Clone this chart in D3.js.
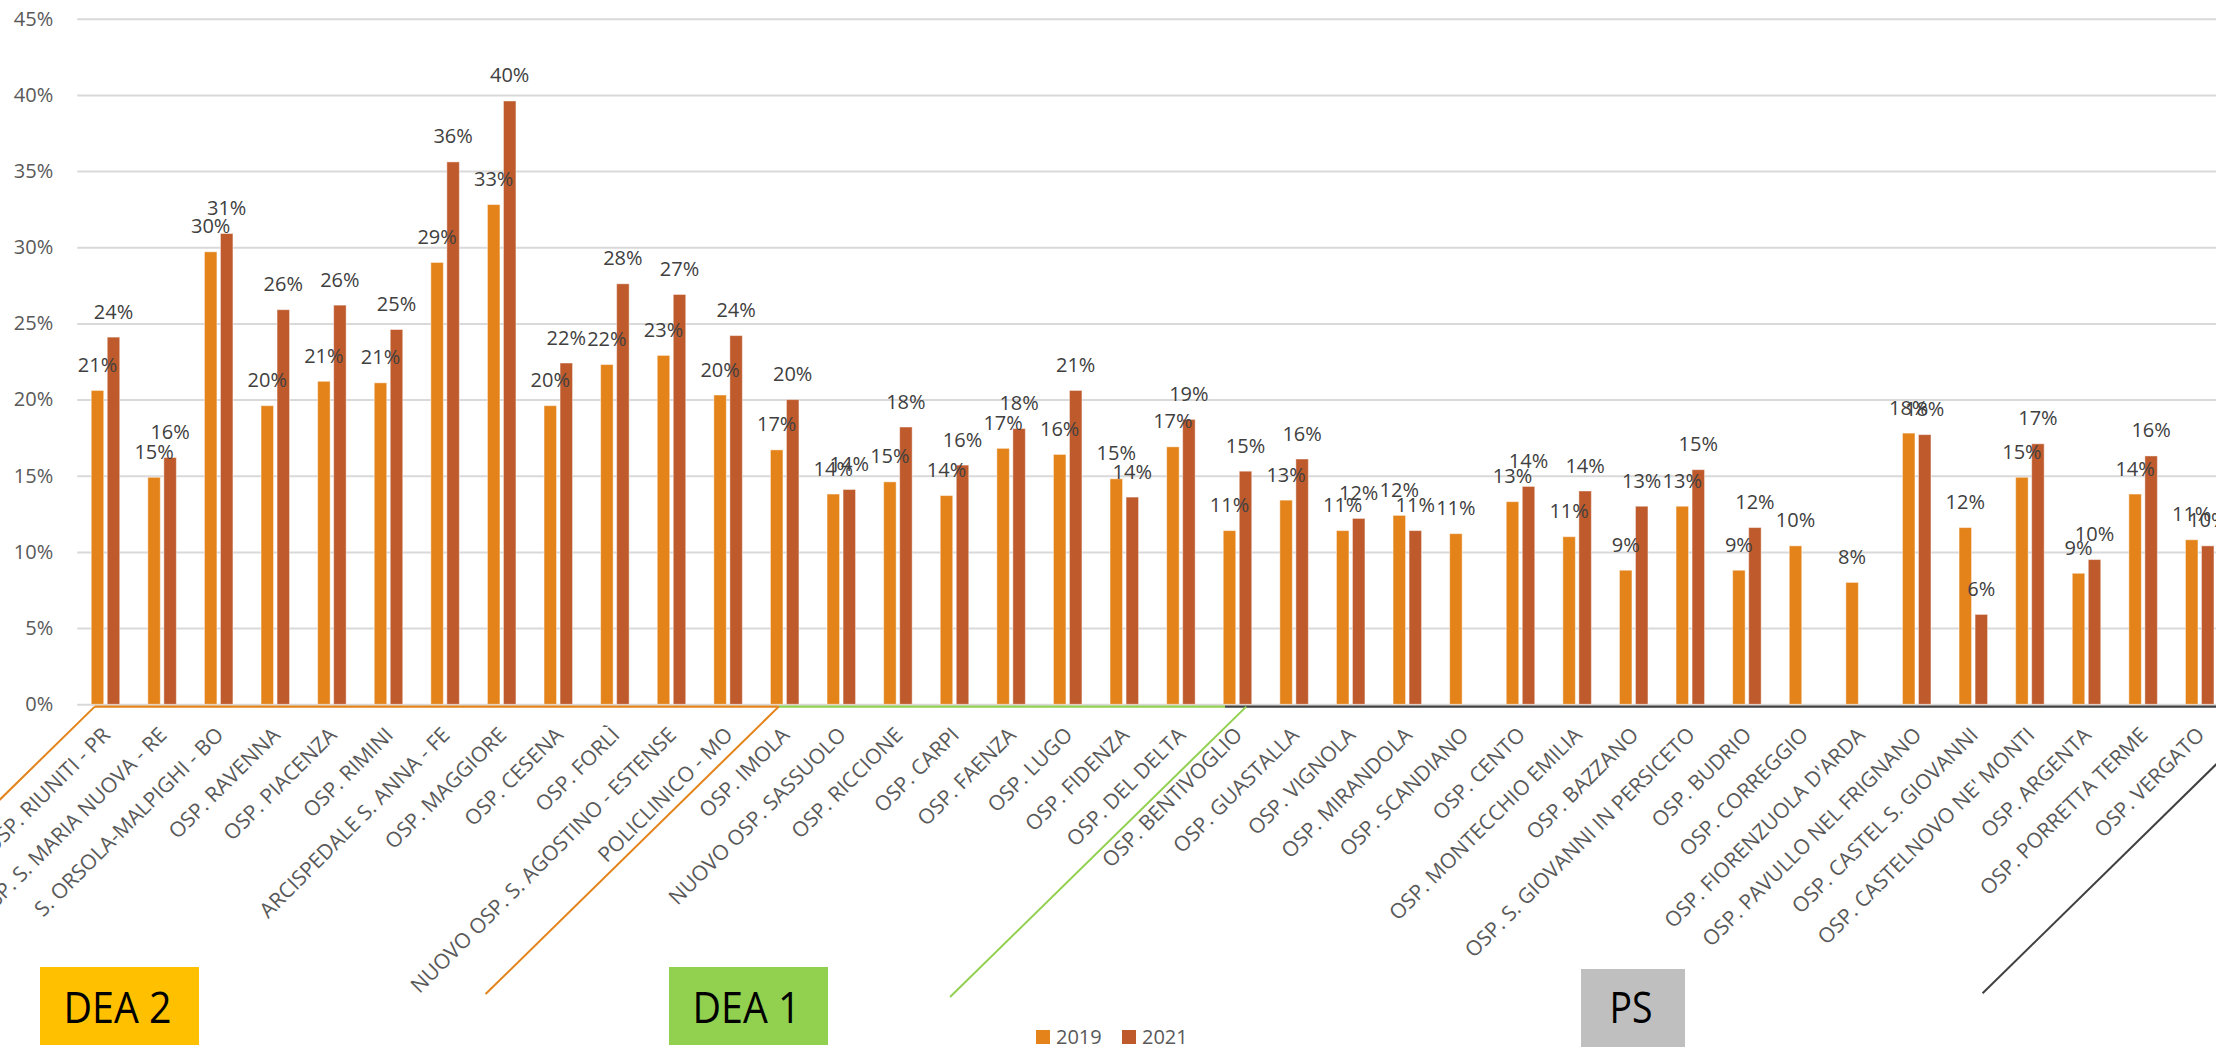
<!DOCTYPE html>
<html><head><meta charset="utf-8">
<script src="https://cdn.jsdelivr.net/npm/d3@7"></script>
<style>
html,body{margin:0;padding:0;background:#fff;overflow:hidden}
svg{display:block}
text{font-family:"Open Sans","Noto Sans",sans-serif}
</style></head><body>
<script>
// ---------- DATA ----------
const categories = [
  "OSP. RIUNITI - PR","OSP. S. MARIA NUOVA - RE","S. ORSOLA-MALPIGHI - BO","OSP. RAVENNA","OSP. PIACENZA",
  "OSP. RIMINI","ARCISPEDALE S. ANNA - FE","OSP. MAGGIORE","OSP. CESENA","OSP. FORLÌ",
  "NUOVO OSP. S. AGOSTINO - ESTENSE","POLICLINICO - MO","OSP. IMOLA","NUOVO OSP. SASSUOLO","OSP. RICCIONE",
  "OSP. CARPI","OSP. FAENZA","OSP. LUGO","OSP. FIDENZA","OSP. DEL DELTA",
  "OSP. BENTIVOGLIO","OSP. GUASTALLA","OSP. VIGNOLA","OSP. MIRANDOLA","OSP. SCANDIANO",
  "OSP. CENTO","OSP. MONTECCHIO EMILIA","OSP. BAZZANO","OSP. S. GIOVANNI IN PERSICETO","OSP. BUDRIO",
  "OSP. CORREGGIO","OSP. FIORENZUOLA D'ARDA","OSP. PAVULLO NEL FRIGNANO","OSP. CASTEL S. GIOVANNI","OSP. CASTELNOVO NE' MONTI",
  "OSP. ARGENTA","OSP. PORRETTA TERME","OSP. VERGATO"
];
const values2019 = [
  20.6, 14.9, 29.7, 19.6, 21.2, 21.1, 29.0, 32.8, 19.6, 22.3,
  22.9, 20.3, 16.7, 13.8, 14.6, 13.7, 16.8, 16.4, 14.8, 16.9,
  11.4, 13.4, 11.4, 12.4, 11.2, 13.3, 11.0, 8.8, 13.0, 8.8,
  10.4, 8.0, 17.8, 11.6, 14.9, 8.6, 13.8, 10.8
];
const values2021 = [
  24.1, 16.2, 30.9, 25.9, 26.2, 24.6, 35.6, 39.6, 22.4, 27.6,
  26.9, 24.2, 20.0, 14.1, 18.2, 15.7, 18.1, 20.6, 13.6, 18.7,
  15.3, 16.1, 12.2, 11.4, null, 14.3, 14.0, 13.0, 15.4, 11.6,
  null, null, 17.7, 5.9, 17.1, 9.5, 16.3, 10.4
];
const seriesNames = ["2019", "2021"];
const yTicks = [0, 5, 10, 15, 20, 25, 30, 35, 40, 45];
const groupNames = ["DEA 2", "DEA 1", "PS"];
const groupFirstCategory = ["OSP. RIUNITI - PR", "OSP. IMOLA", "OSP. BENTIVOGLIO"];

// ---------- STYLE / LAYOUT ----------
const W = 2216, H = 1047;
const seriesColors = ["#E3831A", "#BE5A2C"];
const groupFill = ["#FFC000", "#92D050", "#BFBFBF"];
const groupLine = ["#E3831A", "#92D050", "#404040"];
const plotLeft = 77.2, plotTop = 18.7, plotBottom = 704.3, step = 56.6;

const svg = d3.select("body").append("svg").attr("width", W).attr("height", H);

const x = d3.scaleBand().domain(categories)
  .range([plotLeft, plotLeft + step * categories.length])
  .paddingInner(0.4965).paddingOuter(0.248);
const xs = d3.scaleBand().domain(seriesNames).range([0, x.bandwidth()]).paddingInner(0.22);
const y = d3.scaleLinear().domain([0, 45]).range([plotBottom, plotTop]);

// gridlines + y axis labels
const yAxis = d3.axisLeft(y).tickValues(yTicks).tickFormat(d => d + "%").tickSize(-(W - plotLeft)).tickPadding(24);
const gy = svg.append("g").attr("transform", `translate(${plotLeft},0)`).call(yAxis);
gy.select(".domain").remove();
gy.selectAll(".tick line").attr("stroke", "#D9D9D9").attr("stroke-width", 2);
gy.selectAll(".tick text").attr("fill", "#595959").attr("font-size", 20)
  .attr("font-family", '"Open Sans","Noto Sans",sans-serif');

// bars
const seriesVals = [values2019, values2021];
const rows = [];
categories.forEach((c, i) => seriesNames.forEach((s, j) => {
  const v = seriesVals[j][i];
  if (v !== null && v !== undefined) rows.push({ c, s, j, v });
}));
svg.append("g").selectAll("rect").data(rows).join("rect")
  .attr("x", d => x(d.c) + xs(d.s))
  .attr("y", d => y(d.v))
  .attr("width", xs.bandwidth())
  .attr("height", d => y(0) - y(d.v))
  .attr("fill", d => seriesColors[d.j])
  .attr("stroke", "rgba(255,255,255,0.45)").attr("stroke-width", 1);

// value labels
svg.append("g").selectAll("text").data(rows).join("text")
  .attr("x", d => x(d.c) + xs(d.s) + xs.bandwidth() / 2)
  .attr("y", d => y(d.v) - 18.5)
  .attr("text-anchor", "middle")
  .attr("font-size", 20).attr("fill", "#404040")
  .text(d => Math.round(d.v) + "%");

// category labels
const xAxis = d3.axisBottom(x).tickSize(0).tickPadding(0);
const gx = svg.append("g").attr("transform", `translate(0,${plotBottom})`).call(xAxis);
gx.select(".domain").remove();
gx.selectAll(".tick text")
  .attr("transform", "translate(6,32) rotate(-45)")
  .attr("text-anchor", "end").attr("dy", 0).attr("y", 0).attr("x", 0)
  .attr("font-size", 21).attr("fill", "#595959")
  .attr("font-family", '"Open Sans","Noto Sans",sans-serif');

// group baselines and diagonal separators
const baseY = plotBottom + 2.3;
const segStart = [x(groupFirstCategory[0]) + 3.5, x(groupFirstCategory[1]) + 8.3, x(groupFirstCategory[2]) + 1.8];
const segEnd = [segStart[1], segStart[2], W + 10];
const gb = svg.append("g");
groupNames.forEach((g, i) => {
  gb.append("line").attr("x1", segStart[i]).attr("x2", segEnd[i]).attr("y1", baseY).attr("y2", baseY)
    .attr("stroke", groupLine[i]).attr("stroke-width", 2.2);
});
const diag = [
  { x0: segStart[0], y0: baseY, y1: 810, color: groupLine[0], dir: -1 },
  { x0: segStart[1], y0: baseY, y1: 994, color: groupLine[0], dir: -1 },
  { x0: x(groupFirstCategory[2]) + 23, y0: baseY, y1: 997, color: groupLine[1], dir: -1 },
  { x0: 1982.6, y0: 993.3, y1: 700, color: groupLine[2], dir: 1 }
];
diag.forEach(d => {
  const k = 1.02;
  const dy = Math.abs(d.y1 - d.y0);
  gb.append("line").attr("x1", d.x0).attr("y1", d.y0)
    .attr("x2", d.x0 + d.dir * dy * k).attr("y2", d.y1)
    .attr("stroke", d.color).attr("stroke-width", 2);
});

// group boxes
const boxes = [
  { x: 40, y: 967, w: 159, h: 78, tl: 108 },
  { x: 669, y: 967, w: 159, h: 78, tl: 108 },
  { x: 1581, y: 969, w: 104, h: 78, tl: 43 }
];
groupNames.forEach((g, i) => {
  const b = boxes[i];
  svg.append("rect").attr("x", b.x).attr("y", b.y).attr("width", b.w).attr("height", b.h).attr("fill", groupFill[i]);
  svg.append("text").attr("x", b.x + b.w / 2 - 2).attr("y", 1022.5).attr("text-anchor", "middle")
    .attr("font-size", 43).attr("fill", "#000")
    .attr("textLength", b.tl).attr("lengthAdjust", "spacingAndGlyphs")
    .text(g);
});

// legend
const lg = svg.append("g").attr("transform", "translate(1036,1030)");
seriesNames.forEach((s, i) => {
  const gi = lg.append("g").attr("transform", `translate(${i * 86},0)`);
  gi.append("rect").attr("width", 14).attr("height", 14).attr("fill", seriesColors[i]);
  gi.append("text").attr("x", 20).attr("y", 14).attr("font-size", 20).attr("fill", "#595959").text(s);
});
</script>
</body></html>
